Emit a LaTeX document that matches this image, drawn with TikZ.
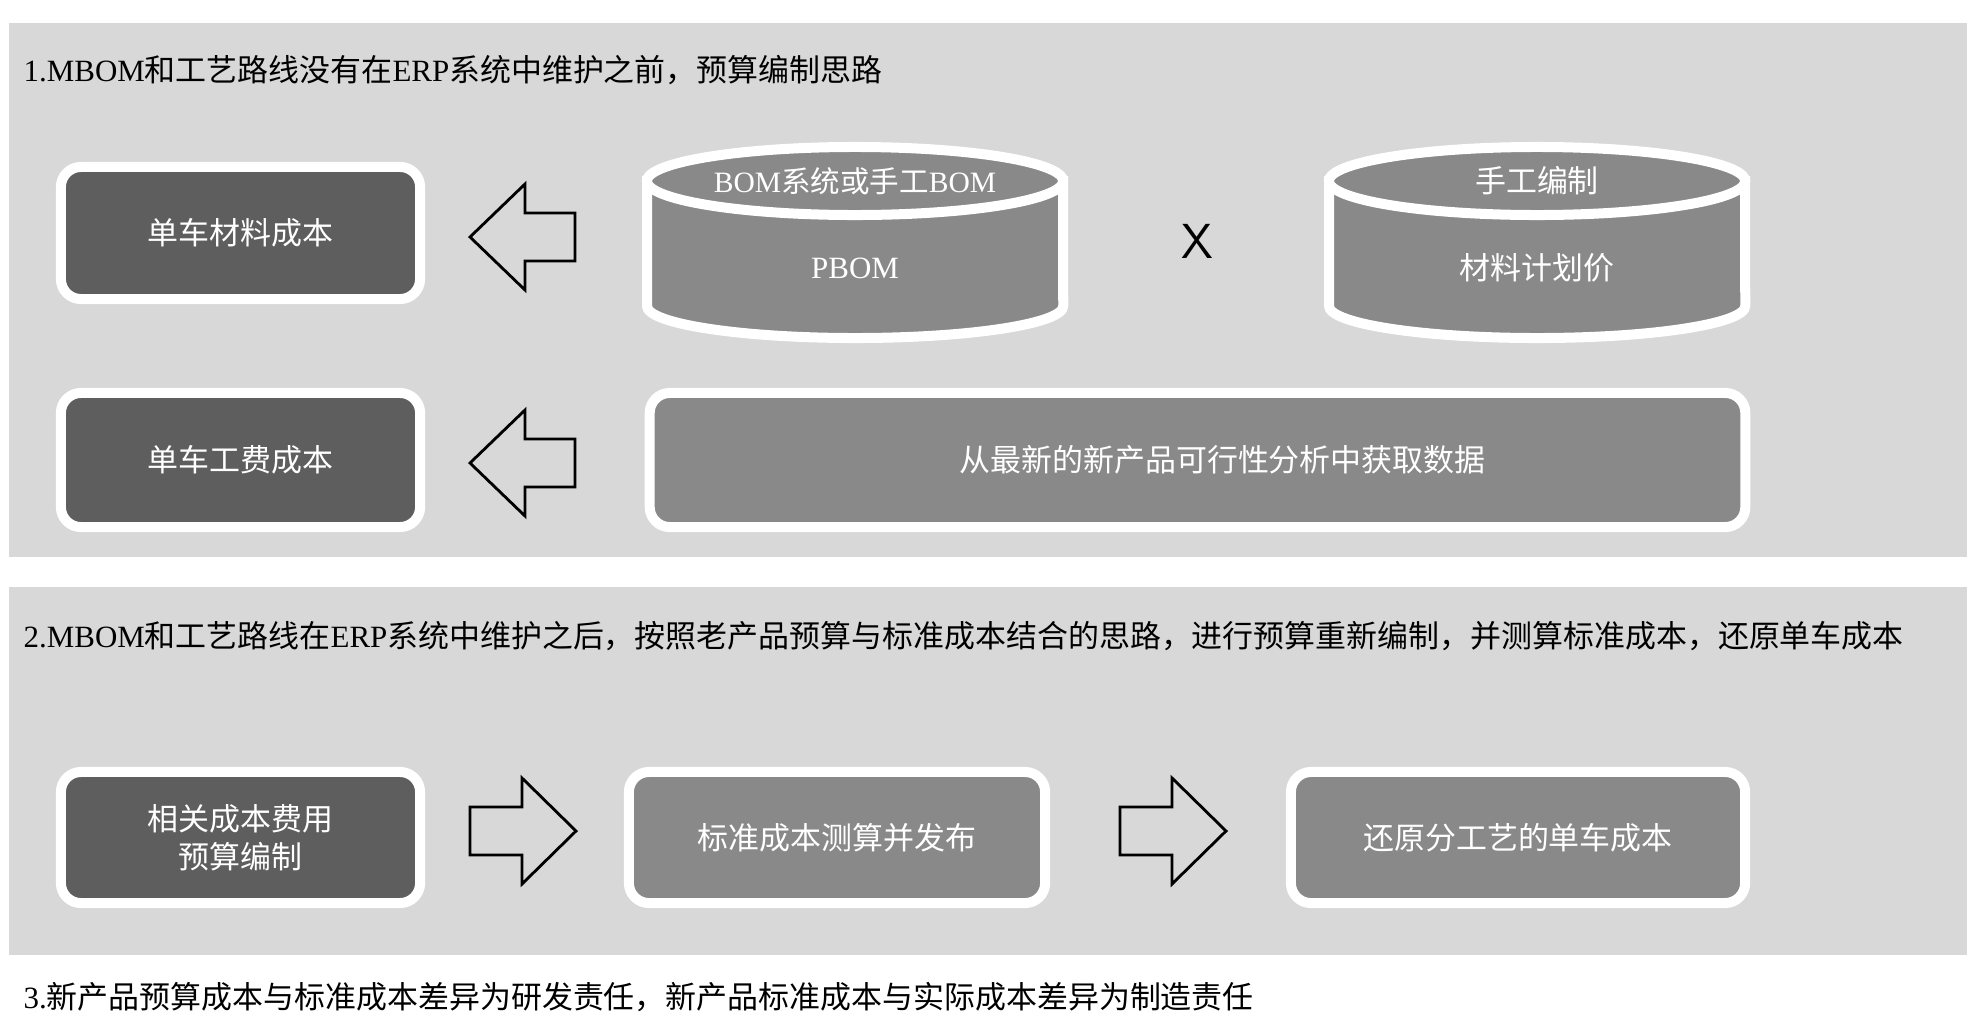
\documentclass[tikz,border=0pt]{standalone}
\usepackage{fontspec}
\setmainfont{Noto Sans CJK SC}
\newfontfamily\enfont{Liberation Serif}
\newcommand{\en}[1]{{\enfont #1}}
\definecolor{panelbg}{RGB}{216,216,216}
\definecolor{darkbox}{RGB}{94,94,94}
\definecolor{midbox}{RGB}{137,137,137}
\newcommand{\costdrum}[4]{%
  \filldraw[midbox,draw=white,line width=0.1cm] (#2-208,-181) -- (#2-208,-306)
    arc[start angle=180,end angle=360,x radius=2.08cm,y radius=0.32cm] -- (#2+208,-181) -- cycle;%
  \filldraw[midbox,draw=white,line width=0.1cm] (#2,-181) ellipse[x radius=2.08cm,y radius=0.34cm];%
  \node[drumtext] (#1top) at (#2,-181) {#3};%
  \node[drumtext] (#1body) at (#2,-268) {#4};%
}
\newcommand{\leftblock}[2]{%
  \draw[blockarrow] (#1,-#2) -- ++(55,53) -- ++(0,-29) -- ++(50,0) -- ++(0,-48)
    -- ++(-50,0) -- ++(0,-29) -- cycle;%
}
\newcommand{\rightblock}[2]{%
  \draw[blockarrow] (#1,-#2+24) -- ++(52,0) -- ++(0,29) -- ++(54,-53) -- ++(-54,-53)
    -- ++(0,29) -- ++(-52,0) -- cycle;%
}

\begin{document}
\begin{tikzpicture}[x=0.01cm,y=0.01cm,
  costbox/.style={draw=white,line width=0.1cm,rounded corners=0.2cm,text=white,inner sep=0pt,
    align=center,font=\fontsize{8.8}{10.8}\selectfont},
  drumtext/.style={text=white,inner sep=0pt,font=\fontsize{8.8}{10.8}\selectfont},
  heading/.style={anchor=west,inner sep=0pt,font=\fontsize{8.8}{10.8}\selectfont},
  blockarrow/.style={draw=black,line width=0.8pt,fill=panelbg}]
  \fill[white] (0,0) rectangle (1977,-1027);
  \useasboundingbox (0,0) rectangle (1977,-1027);
  \fill[panelbg] (9,-23) rectangle (1967,-557);
  \fill[panelbg] (9,-587) rectangle (1967,-955);
  \node[heading] (head1) at (23,-70) {\en{1.MBOM}和工艺路线没有在\en{ERP}系统中维护之前，预算编制思路};
  \node[costbox,fill=darkbox,minimum width=3.59cm,minimum height=1.32cm] (matcost) at (240.5,-233) {单车材料成本};
  \node[costbox,fill=darkbox,minimum width=3.59cm,minimum height=1.34cm] (labcost) at (240.5,-460) {单车工费成本};
  \leftblock{470}{237}
  \leftblock{470}{463}
  \costdrum{pbom}{855}{\fontsize{8.4}{10}\selectfont\en{BOM}系统或手工\en{BOM}}{\en{PBOM}}
  \costdrum{price}{1537}{手工编制}{材料计划价}
  \node[font=\fontsize{14}{14}\selectfont\sffamily,inner sep=0pt] (times) at (1197,-241) {X};
  \node[costbox,fill=midbox,minimum width=10.95cm,minimum height=1.34cm] (newdata) at (1197.5,-460) {\hspace*{0.5cm}从最新的新产品可行性分析中获取数据};
  \node[heading] (head2) at (23,-636) {\en{2.MBOM}和工艺路线在\en{ERP}系统中维护之后，按照老产品预算与标准成本结合的思路，进行预算重新编制，并测算标准成本，还原单车成本};
  \node[costbox,fill=darkbox,minimum width=3.59cm,minimum height=1.31cm] (budget) at (240.5,-837.5) {相关成本费用\\预算编制};
  \node[costbox,fill=midbox,minimum width=4.16cm,minimum height=1.31cm] (stdcost) at (837,-837.5) {标准成本测算并发布};
  \node[costbox,fill=midbox,minimum width=4.54cm,minimum height=1.31cm] (restore) at (1518,-837.5) {还原分工艺的单车成本};
  \rightblock{470}{831}
  \rightblock{1120}{831}
  \node[heading] (head3) at (23,-997) {\en{3.}新产品预算成本与标准成本差异为研发责任，新产品标准成本与实际成本差异为制造责任};
\end{tikzpicture}
\end{document}
